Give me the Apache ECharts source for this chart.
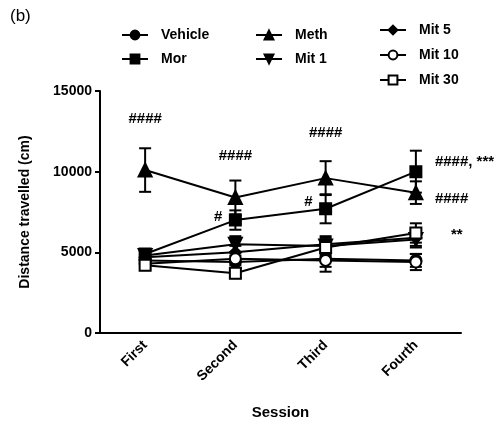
<!DOCTYPE html>
<html><head><meta charset="utf-8">
<script src="https://cdn.jsdelivr.net/npm/echarts@6/dist/echarts.min.js"></script>
<style>html,body{margin:0;padding:0;background:#fff}#c{width:504px;height:425px}</style>
</head><body><div id="c"></div>
<script>
const sessions = ['First', 'Second', 'Third', 'Fourth'];
const yTicks = [0, 5000, 10000, 15000];
const vehicle = [4500, 4400, 4600, 4500];
const vehicleErr = [300, 400, 500, 400];
const mor = [4900, 7000, 7700, 10000];
const morErr = [300, 600, 900, 1300];
const meth = [10100, 8400, 9600, 8700];
const methErr = [1350, 1050, 1050, 700];
const mit1 = [4800, 5500, 5400, 5800];
const mit1Err = [300, 500, 500, 500];
const mit5 = [4700, 5000, 5500, 5900];
const mit5Err = [300, 400, 500, 500];
const mit10 = [4300, 4600, 4500, 4400];
const mit10Err = [300, 400, 700, 500];
const mit30 = [4200, 3700, 5300, 6200];
const mit30Err = [300, 300, 500, 600];
const annotations = [
  ['First', 13300, '####', 'c'],
  ['Second', 11000, '####', 'c'],
  ['Third', 12400, '####', 'c'],
  ['Fourth', 10600, '####, ***', 'r'],
  ['Fourth', 8300, '####', 'r'],
  ['Fourth', 6100, '**', 'r2'],
  ['Second', 7200, '#', 'l'],
  ['Third', 8100, '#', 'l']
];

const FONT = '"Liberation Sans", Arial, sans-serif';
const groups = [
  {name: 'Vehicle', data: vehicle, err: vehicleErr, symbol: 'circle', fill: '#000'},
  {name: 'Mor', data: mor, err: morErr, symbol: 'rect', fill: '#000'},
  {name: 'Meth', data: meth, err: methErr, symbol: 'triangle', fill: '#000'},
  {name: 'Mit 1', data: mit1, err: mit1Err, symbol: 'triangle', fill: '#000', rotate: 180},
  {name: 'Mit 5', data: mit5, err: mit5Err, symbol: 'diamond', fill: '#000'},
  {name: 'Mit 10', data: mit10, err: mit10Err, symbol: 'circle', fill: '#fff'},
  {name: 'Mit 30', data: mit30, err: mit30Err, symbol: 'rect', fill: '#fff'}
];

const series = [];
groups.forEach(g => {
  series.push({
    type: 'custom', name: g.name + ' err', silent: true, z: 2,
    data: g.data.map((v, i) => [i, v - g.err[i], v + g.err[i]]),
    renderItem: function (params, api) {
      const lo = api.coord([api.value(0), api.value(1)]);
      const hi = api.coord([api.value(0), api.value(2)]);
      const w = 6;
      const st = {stroke: '#000', lineWidth: 2};
      return {type: 'group', children: [
        {type: 'line', shape: {x1: lo[0], y1: lo[1], x2: hi[0], y2: hi[1]}, style: st},
        {type: 'line', shape: {x1: lo[0] - w, y1: lo[1], x2: lo[0] + w, y2: lo[1]}, style: st},
        {type: 'line', shape: {x1: hi[0] - w, y1: hi[1], x2: hi[0] + w, y2: hi[1]}, style: st}
      ]};
    }
  });
  series.push({
    type: 'line', name: g.name, data: g.data, z: 3,
    symbol: g.symbol, symbolSize: g.symbol === 'triangle' ? 13 : 11,
    symbolRotate: g.rotate || 0, showAllSymbol: true,
    lineStyle: {color: '#000', width: 2},
    itemStyle: {color: g.fill, borderColor: '#000', borderWidth: 2}
  });
});

series.push({
  type: 'scatter', name: 'ann', symbolSize: 0, silent: true, z: 5,
  itemStyle: {color: '#000', opacity: 1},
  data: annotations.map(a => {
    let pos = 'inside', off = [0, 0];
    if (a[3] === 'r') { pos = 'right'; off = [14, 0]; }
    if (a[3] === 'r2') { pos = 'right'; off = [30, 0]; }
    if (a[3] === 'l') { pos = 'left'; off = [-8, 0]; }
    return {value: [a[0], a[1]], label: {show: true, formatter: a[2], position: pos, offset: off,
      color: '#000', opacity: 1, fontSize: 15, fontWeight: 'bold', fontFamily: FONT}};
  })
});

const legendBase = {
  orient: 'vertical', itemWidth: 26, itemHeight: 11,
  textStyle: {color: '#000', fontSize: 14, fontWeight: 'bold', fontFamily: FONT, padding: [0, 0, 0, 8]},
  selectedMode: false
};

const chart = echarts.init(document.getElementById('c'), null, {renderer: 'canvas'});
chart.setOption({
  animation: false,
  backgroundColor: '#fff',
  graphic: [{type: 'text', left: 10, top: 8, style: {text: '(b)', fontSize: 17, fontFamily: FONT, fill: '#000'}}],
  legend: [
    Object.assign({}, legendBase, {data: ['Vehicle', 'Mor'], left: 116, top: 23, itemGap: 10}),
    Object.assign({}, legendBase, {data: ['Meth', 'Mit 1'], left: 250, top: 23, itemGap: 10}),
    Object.assign({}, legendBase, {data: ['Mit 5', 'Mit 10', 'Mit 30'], left: 374, top: 18, itemGap: 11})
  ],
  grid: {left: 100, right: 43, top: 91, bottom: 90},
  xAxis: {
    type: 'category', data: sessions, boundaryGap: true,
    axisLine: {lineStyle: {color: '#000', width: 2}},
    axisTick: {alignWithLabel: true, length: 6, lineStyle: {width: 2}},
    axisLabel: {rotate: 45, color: '#000', fontSize: 14, fontWeight: 'bold', fontFamily: FONT, margin: 10},
    name: 'Session', nameLocation: 'middle', nameGap: 72,
    nameTextStyle: {color: '#000', fontSize: 15, fontWeight: 'bold', fontFamily: FONT}
  },
  yAxis: {
    type: 'value', min: yTicks[0], max: yTicks[yTicks.length - 1], interval: yTicks[1] - yTicks[0],
    axisLine: {show: true, lineStyle: {color: '#000', width: 2}},
    axisTick: {show: true, length: 5, lineStyle: {width: 2}},
    splitLine: {show: false},
    axisLabel: {color: '#000', fontSize: 14, fontWeight: 'bold', fontFamily: FONT, margin: 8,
      formatter: v => String(v)},
    name: 'Distance travelled (cm)', nameLocation: 'middle', nameGap: 68,
    nameTextStyle: {color: '#000', fontSize: 14, fontWeight: 'bold', fontFamily: FONT}
  },
  series: series
});
</script></body></html>
